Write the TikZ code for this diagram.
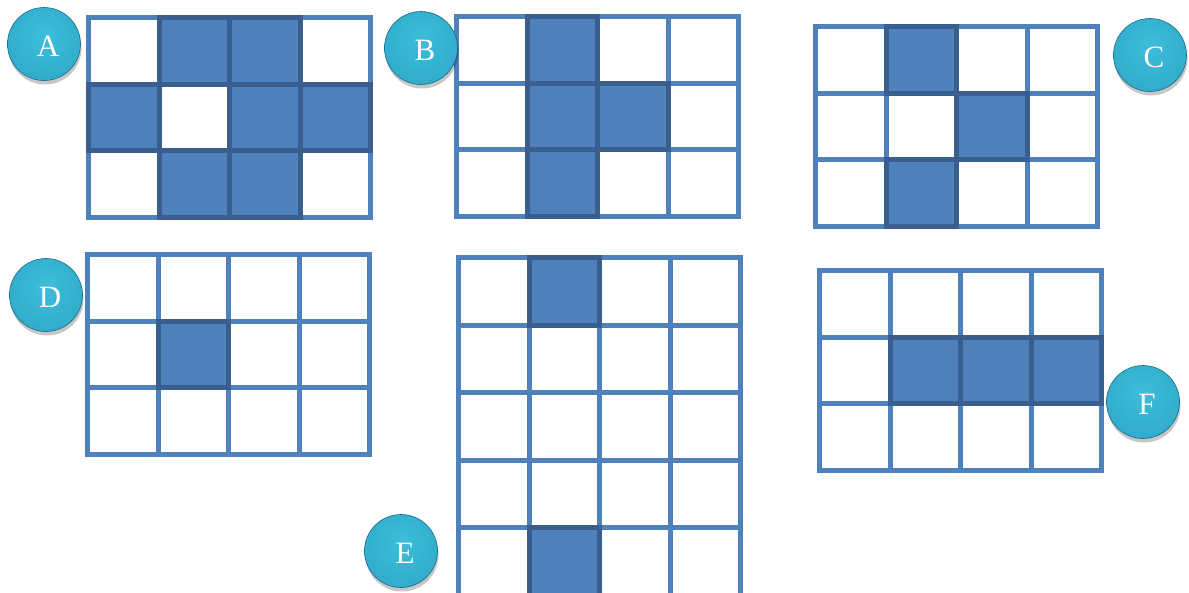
\documentclass[tikz,border=0pt]{standalone}
\usepackage{fontspec}
\setmainfont{Liberation Serif}
\usetikzlibrary{shadows}
\definecolor{cellblue}{HTML}{4F81BD}
\definecolor{celldark}{HTML}{3A5F8E}
\definecolor{badgeedge}{HTML}{1A6882}
\pgfdeclareradialshading{badgeshade}{\pgfpoint{0bp}{7bp}}{%
  color(0bp)=(rgb,255:red,60;green,190;blue,218);
  color(28bp)=(rgb,255:red,50;green,172;blue,204);
  color(40bp)=(rgb,255:red,38;green,146;blue,178);
  color(50bp)=(rgb,255:red,24;green,102;blue,128);
  color(60bp)=(rgb,255:red,20;green,90;blue,112)}
\tikzset{
  cell/.style={draw=cellblue, fill=white, line width=5pt},
  oncell/.style={draw=celldark, fill=cellblue, line width=5pt},
  badge/.style={circle, minimum size=73pt, inner sep=0pt, draw=badgeedge, line width=0.6pt,
    shading=badgeshade,
    drop shadow={shadow xshift=1pt, shadow yshift=-4pt, opacity=0.22, fill=black}},
  badgetext/.style={text=white, font=\fontsize{31}{31}\selectfont, xshift=4pt, yshift=-2pt}
}
\newcommand\mygrid[5]{%
  \begin{scope}[shift={(#1,#2)}]
    \foreach \c in {0,1,2,3}{\foreach \r in {1,...,#3}{
      \draw[cell] ({2.5+\c*70.5},{2.5+(\r-1)*#4}) rectangle ++(70.5,#4);}}
    \foreach \c/\r in {#5}{
      \draw[oncell] ({2.5+\c*70.5},{2.5+(\r-1)*#4}) rectangle ++(70.5,#4);}
  \end{scope}}
\begin{document}
\begin{tikzpicture}[x=1pt,y=-1pt]
\useasboundingbox (0,0) rectangle (1189,592);
\clip (0,0) rectangle (1189,592);
\mygrid{86}{15}{3}{66.7}{1/1,2/1,0/2,2/2,3/2,1/3,2/3}
\mygrid{454}{14}{3}{66.7}{1/1,1/2,2/2,1/3}
\mygrid{813}{24}{3}{66.7}{1/1,2/2,1/3}
\mygrid{85}{252}{3}{66.7}{1/2}
\mygrid{456}{255}{5}{67.5}{1/1,1/5}
\mygrid{817}{268}{3}{66.7}{1/2,2/2,3/2}
\node[badge, label={[badgetext]center:A}] (bA) at (44,44) {};
\node[badge, label={[badgetext]center:B}] (bB) at (421,48) {};
\node[badge, label={[badgetext]center:C}] (bC) at (1150,55) {};
\node[badge, label={[badgetext]center:D}] (bD) at (46,295) {};
\node[badge, label={[badgetext]center:E}] (bE) at (401,551) {};
\node[badge, label={[badgetext]center:F}] (bF) at (1143,402) {};
\end{tikzpicture}
\end{document}
